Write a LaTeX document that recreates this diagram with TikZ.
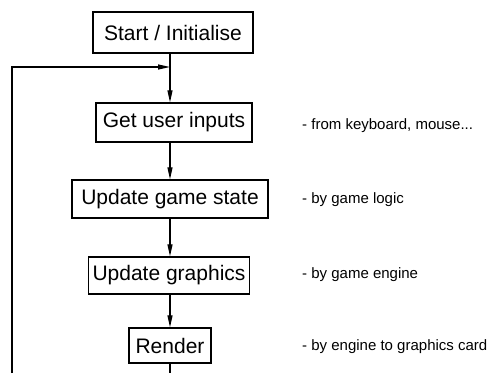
\documentclass[tikz,border=0pt]{standalone}
\usepackage{fontspec}
\setmainfont{Liberation Sans}
\usetikzlibrary{arrows.meta}
\begin{document}
\begin{tikzpicture}[x=1pt,y=-1pt,
 box/.style={draw, line width=1.3pt, inner sep=0pt, font=\fontsize{21}{25}\selectfont, anchor=center},
 note/.style={anchor=west, inner sep=0pt, font=\fontsize{15}{18}\selectfont},
 line/.style={line width=1.2pt},
 flow/.style={line width=1.2pt, -{Triangle[length=12pt,width=5pt]}}]
\useasboundingbox (0,0) rectangle (490,373);
\node[box, minimum width=160pt, minimum height=41pt] (start) at (173,32.5) {Start / Initialise};
\node[box, minimum width=156pt, minimum height=39pt] (get) at (174,122.5) {Get user inputs};
\node[box, minimum width=196pt, minimum height=38pt] (ugs) at (170,199) {Update game state};
\node[box, minimum width=161pt, minimum height=37pt] (ug) at (169,275.5) {Update graphics};
\node[box, minimum width=82pt, minimum height=35pt] (render) at (170,345.5) {Render};
\node[note] (n1) at (302,126) {- from keyboard, mouse...};
\node[note] (n2) at (302,200) {- by game logic};
\node[note] (n3) at (302,275) {- by game engine};
\node[note] (n4) at (302,347) {- by engine to graphics card};
\coordinate (spine) at (170,0);
\coordinate (join) at (170,67);
\coordinate (looptl) at (12,67);
\coordinate (loopbl) at (12,373);
\coordinate (endb) at (170,373);
\draw[line] (start.south -| spine) -- (join);
\draw[flow] (join) -- (get.north -| spine);
\draw[flow] (get.south -| spine) -- (ugs.north -| spine);
\draw[flow] (ugs.south -| spine) -- (ug.north -| spine);
\draw[flow] (ug.south -| spine) -- (render.north -| spine);
\draw[line] (render.south -| spine) -- (endb);
\draw[flow] (loopbl) -- (looptl) -- (join);
\end{tikzpicture}
\end{document}
